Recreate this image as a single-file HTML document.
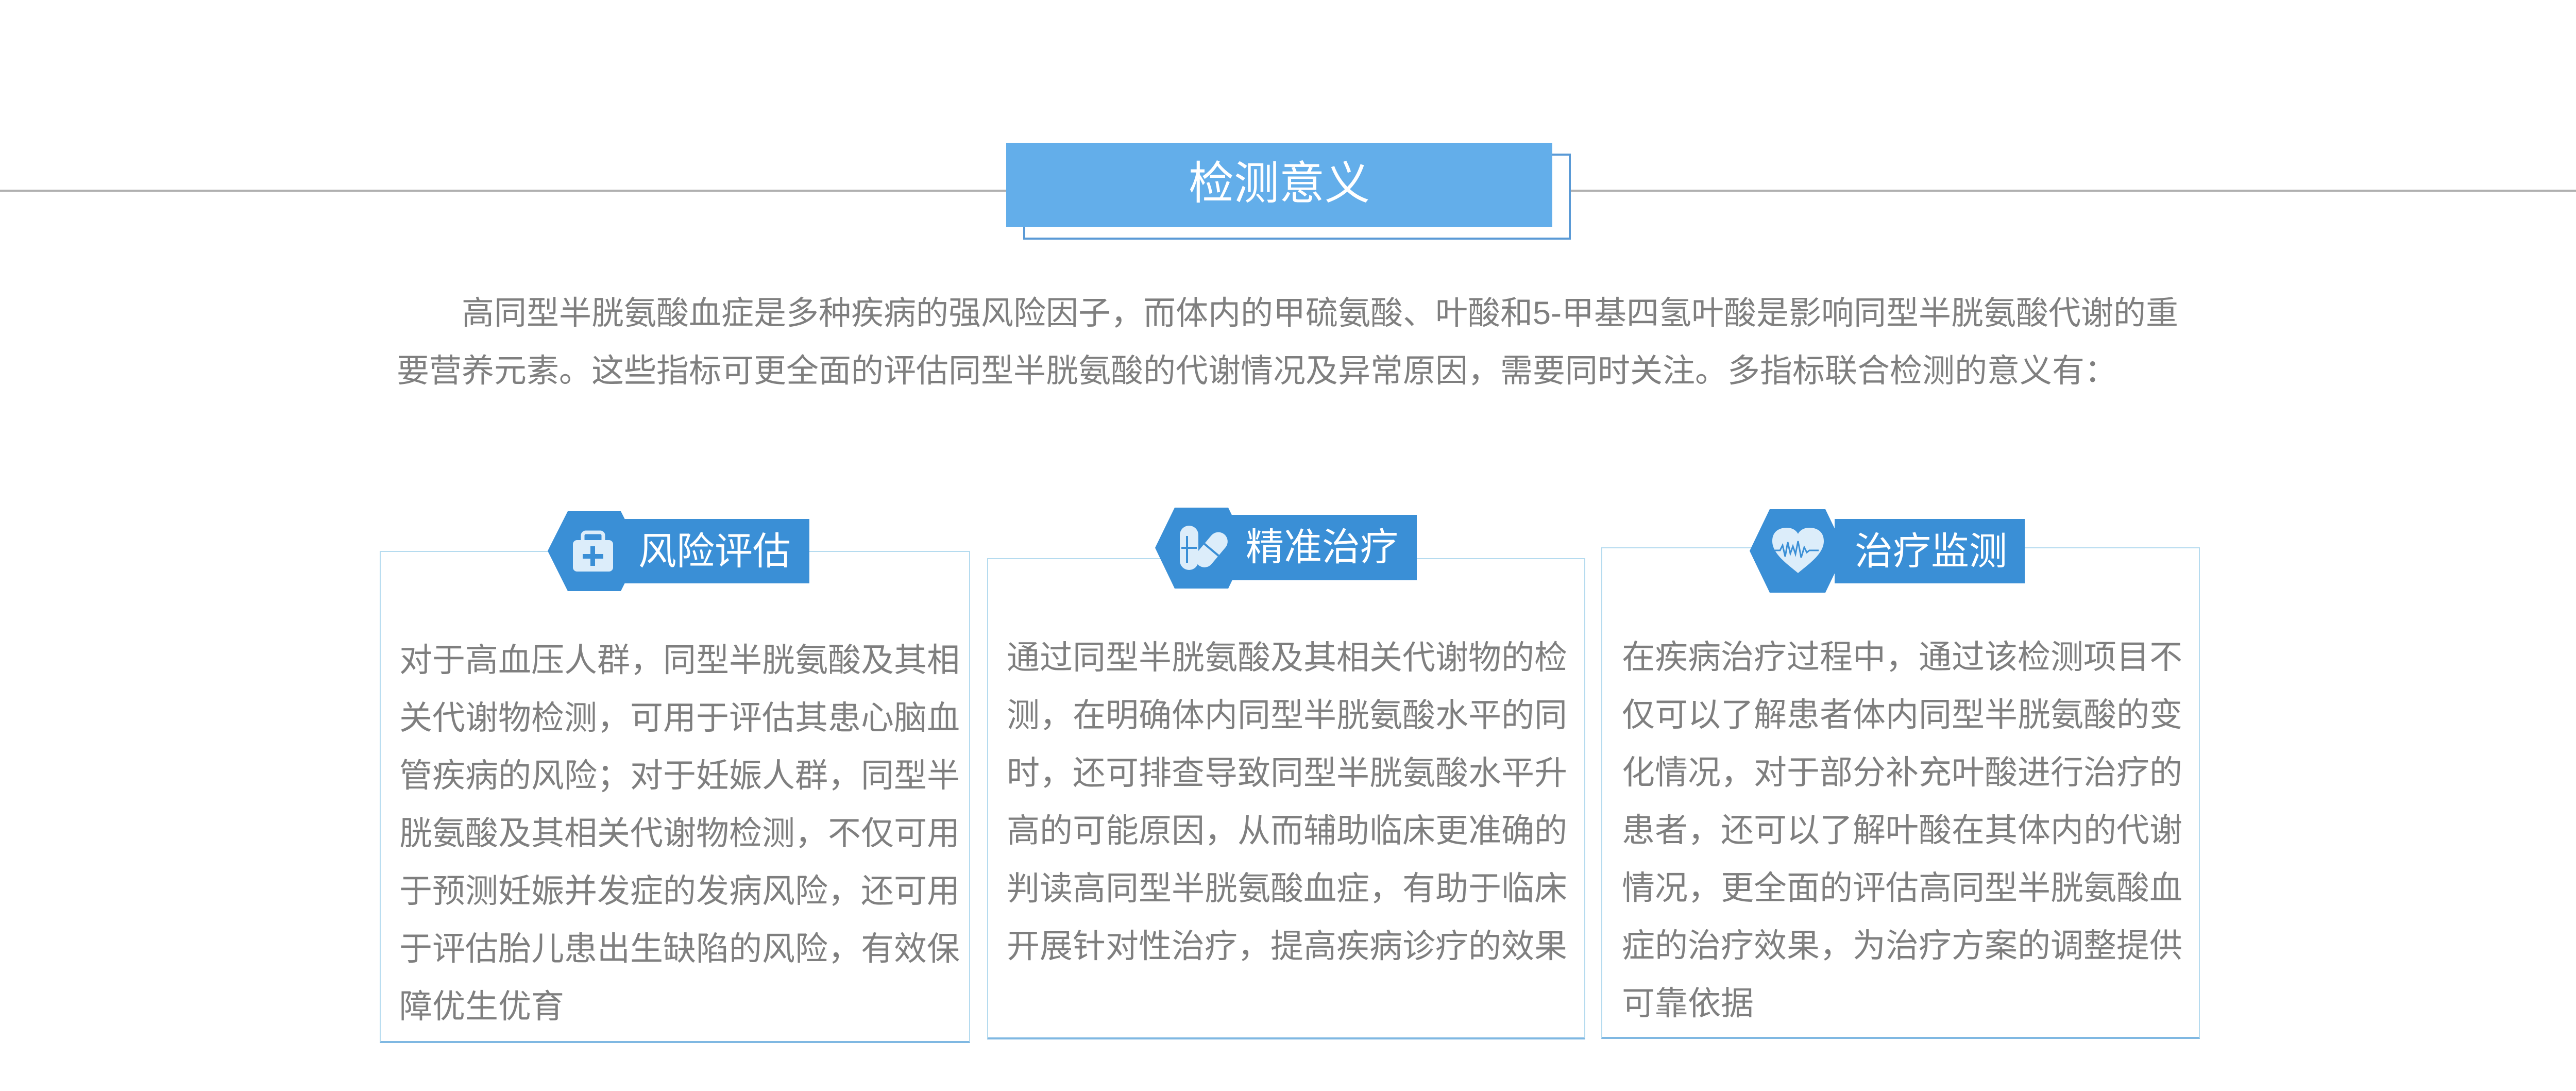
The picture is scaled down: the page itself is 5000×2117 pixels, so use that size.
<!DOCTYPE html>
<html><head><meta charset="utf-8"><style>
*{margin:0;padding:0;box-sizing:border-box}
body{width:5000px;height:2117px;background:#fff;position:relative;overflow:hidden;font-family:"Liberation Sans","Noto Sans CJK SC",sans-serif}
.abs{position:absolute}
.txt{position:absolute;color:#7f7f7f;font-size:64px;line-height:112px;white-space:nowrap}
.card{position:absolute;border:2px solid #b5dbef;border-bottom:4px solid #7fb8e2;background:#fff}
.tagt{position:absolute;color:#fff;font-size:74px;line-height:74px;white-space:nowrap}
</style></head><body>
<div class="abs" style="left:0;top:368px;width:5000px;height:4px;background:#b0b0b0"></div>
<div class="abs" style="left:1986px;top:298px;width:1063px;height:167px;border:4px solid #5a9ad6;background:#fff"></div>
<div class="abs" style="left:1953px;top:277px;width:1060px;height:163px;background:#63aeea"></div>
<div class="abs" style="left:1953px;top:312px;width:1060px;text-align:center;color:#fff;font-size:88px;line-height:88px">检测意义</div>

<div class="txt" style="left:770px;top:552px;font-size:63px">&emsp;&emsp;高同型半胱氨酸血症是多种疾病的强风险因子，而体内的甲硫氨酸、叶酸和5-甲基四氢叶酸是影响同型半胱氨酸代谢的重<br>要营养元素。这些指标可更全面的评估同型半胱氨酸的代谢情况及异常原因，需要同时关注。多指标联合检测的意义有：</div>

<div class="card" style="left:737px;top:1069px;width:1146px;height:955px"></div>
<div class="card" style="left:1916px;top:1083px;width:1161px;height:934px"></div>
<div class="card" style="left:3108px;top:1062px;width:1162px;height:954px"></div>

<svg class="abs" style="left:0;top:0" width="5000" height="2117">
<g fill="#3a8fd6">
<polygon points="1063,1069 1102,992 1205,992 1244,1069 1205,1147 1102,1147"/>
<rect x="1207" y="1007" width="364" height="125"/>
<polygon points="2242,1063 2280,985 2384,985 2422,1063 2384,1142 2280,1142"/>
<rect x="2390" y="999" width="360" height="127"/>
<polygon points="3396,1069 3435,988 3543,988 3582,1069 3543,1150 3435,1150"/>
<rect x="3561" y="1007" width="369" height="125"/>
</g>
<!-- kit icon -->
<rect x="1131" y="1033" width="40" height="20" rx="6" fill="none" stroke="#dcedfa" stroke-width="7"/>
<rect x="1112" y="1048" width="78" height="61" rx="8" fill="#dcedfa"/>
<rect x="1146" y="1060" width="9" height="38" fill="#3a8fd6"/>
<rect x="1131" y="1075" width="40" height="9" fill="#3a8fd6"/>
<!-- pill icon -->
<rect x="2290" y="1020" width="36" height="86" rx="18" fill="#dcedfa"/>
<line x1="2293" y1="1063" x2="2323" y2="1063" stroke="#3a8fd6" stroke-width="4"/>
<line x1="2304" y1="1040" x2="2304" y2="1092" stroke="#3a8fd6" stroke-width="4"/>
<g transform="rotate(40 2352 1066)"><rect x="2334" y="1028" width="36" height="78" rx="18" fill="#dcedfa"/><line x1="2334" y1="1067" x2="2370" y2="1067" stroke="#3a8fd6" stroke-width="4"/></g>
<!-- heart icon -->
<path d="M3490,1112 C3470,1095 3440,1075 3440,1050 C3440,1030 3455,1024 3468,1024 C3480,1024 3487,1030 3490,1036 C3493,1030 3500,1024 3512,1024 C3525,1024 3540,1030 3540,1050 C3540,1075 3510,1095 3490,1112 Z" fill="#dcedfa"/>
<polyline points="3444,1068 3455,1068 3460,1058 3465,1080 3470,1052 3475,1074 3480,1060 3485,1075 3490,1050 3496,1082 3502,1062 3507,1072 3512,1068 3530,1068" fill="none" stroke="#3a8fd6" stroke-width="3"/>
</svg>
<div class="tagt" style="left:1239px;top:1033px">风险评估</div>
<div class="tagt" style="left:2418px;top:1025px">精准治疗</div>
<div class="tagt" style="left:3600px;top:1033px">治疗监测</div>

<div class="txt" style="left:775px;top:1225px">对于高血压人群，同型半胱氨酸及其相<br>关代谢物检测，可用于评估其患心脑血<br>管疾病的风险；对于妊娠人群，同型半<br>胱氨酸及其相关代谢物检测，不仅可用<br>于预测妊娠并发症的发病风险，还可用<br>于评估胎儿患出生缺陷的风险，有效保<br>障优生优育</div>
<div class="txt" style="left:1954px;top:1220px">通过同型半胱氨酸及其相关代谢物的检<br>测，在明确体内同型半胱氨酸水平的同<br>时，还可排查导致同型半胱氨酸水平升<br>高的可能原因，从而辅助临床更准确的<br>判读高同型半胱氨酸血症，有助于临床<br>开展针对性治疗，提高疾病诊疗的效果</div>
<div class="txt" style="left:3148px;top:1219px">在疾病治疗过程中，通过该检测项目不<br>仅可以了解患者体内同型半胱氨酸的变<br>化情况，对于部分补充叶酸进行治疗的<br>患者，还可以了解叶酸在其体内的代谢<br>情况，更全面的评估高同型半胱氨酸血<br>症的治疗效果，为治疗方案的调整提供<br>可靠依据</div>
</body></html>
